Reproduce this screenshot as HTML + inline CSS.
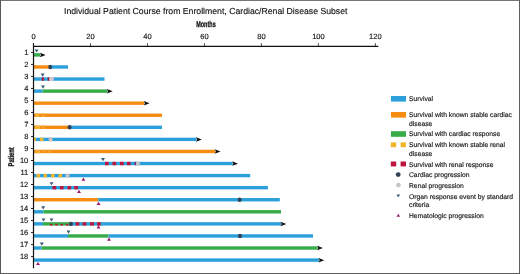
<!DOCTYPE html>
<html><head><meta charset="utf-8"><style>
html,body{margin:0;padding:0;background:#fff;}
body{width:520px;height:274px;overflow:hidden;position:relative;}
svg{position:absolute;left:0;top:0;display:block;filter:blur(0.4px);}
text{font-family:"Liberation Sans",sans-serif;fill:#111;stroke:#111;stroke-width:0.13px;text-rendering:geometricPrecision;}
.tk{font-size:7.5px;}
.lg{font-size:6.75px;}
.tt{font-size:8.7px;}
.bd{font-weight:bold;font-size:8.4px;stroke-width:0.28px;}
</style></head><body>
<svg width="520" height="274" viewBox="0 0 520 274">
<rect x="0" y="0" width="520" height="274" fill="#fff"/><rect x="0" y="0" width="520" height="1" fill="#747474"/><rect x="0" y="0" width="1" height="274" fill="#5a5a5a"/><rect x="519" y="0" width="1" height="274" fill="#5e5e5e"/><rect x="0" y="273" width="520" height="1" fill="#5e5e5e"/>
<text x="64" y="14.3" class="tt">Individual Patient Course from Enrollment, Cardiac/Renal Disease Subset</text>
<text x="0" y="0" class="bd" transform="translate(196.2 26.8) scale(0.655 1)">Months</text>
<text x="0" y="0" class="bd" transform="translate(13.6 166.4) rotate(-90) scale(0.685 1)">Patient</text>
<rect x="33.50" y="53.20" width="6.90" height="3.4" fill="#36ac48"/>
<path d="M40.00 52.70L45.70 55.00L40.00 57.20L41.00 55.00Z" fill="#111"/>
<path d="M34.60 49.40L38.60 49.40L36.60 52.60Z" fill="#3a5a74"/>
<rect x="33.50" y="65.27" width="16.50" height="3.4" fill="#f68c12"/>
<rect x="50.00" y="65.27" width="18.00" height="3.4" fill="#2ca0db"/>
<ellipse cx="50.20" cy="66.97" rx="2.0" ry="2.2" fill="#2f4257"/>
<rect x="33.50" y="77.34" width="71.00" height="3.4" fill="#2ca0db"/>
<rect x="41.80" y="77.34" width="2.20" height="3.4" fill="#bd1540"/>
<rect x="47.70" y="77.34" width="1.30" height="3.4" fill="#8a1a3a"/>
<rect x="49.00" y="77.34" width="1.80" height="3.4" fill="#e8a0b0"/>
<ellipse cx="51.80" cy="79.04" rx="2.0" ry="2.2" fill="#d8c8d0"/>
<path d="M40.70 73.54L44.70 73.54L42.70 76.74Z" fill="#3a5a74"/>
<rect x="33.50" y="89.41" width="9.00" height="3.4" fill="#2ca0db"/>
<rect x="42.50" y="89.41" width="64.90" height="3.4" fill="#36ac48"/>
<path d="M107.00 88.91L112.70 91.21L107.00 93.41L108.00 91.21Z" fill="#111"/>
<path d="M41.00 85.61L45.00 85.61L43.00 88.81Z" fill="#3a5a74"/>
<rect x="33.50" y="101.48" width="110.80" height="3.4" fill="#f68c12"/>
<path d="M143.90 100.98L149.60 103.28L143.90 105.48L144.90 103.28Z" fill="#111"/>
<rect x="33.50" y="113.55" width="128.50" height="3.4" fill="#f68c12"/>
<rect x="35.20" y="113.55" width="4.00" height="3.4" fill="#f2b035"/>
<rect x="41.50" y="113.55" width="3.50" height="3.4" fill="#f4a02a"/>
<rect x="33.50" y="125.62" width="36.10" height="3.4" fill="#f68c12"/>
<rect x="69.60" y="125.62" width="92.40" height="3.4" fill="#2ca0db"/>
<rect x="35.00" y="125.62" width="5.00" height="3.4" fill="#f2b238"/>
<rect x="41.50" y="125.62" width="3.00" height="3.4" fill="#f4a02a"/>
<ellipse cx="69.60" cy="127.32" rx="2.0" ry="2.2" fill="#2f4257"/>
<rect x="33.50" y="137.69" width="163.00" height="3.4" fill="#2ca0db"/>
<rect x="33.80" y="137.69" width="2.00" height="3.4" fill="#f2b62c"/>
<rect x="40.00" y="137.69" width="3.40" height="3.4" fill="#f2b62c"/>
<ellipse cx="50.60" cy="139.39" rx="2.0" ry="2.2" fill="#d5c0c0"/>
<path d="M196.10 137.19L201.80 139.49L196.10 141.69L197.10 139.49Z" fill="#111"/>
<rect x="33.50" y="149.76" width="181.70" height="3.4" fill="#f68c12"/>
<rect x="35.50" y="149.76" width="4.50" height="3.4" fill="#f3aa38"/>
<rect x="42.50" y="149.76" width="2.80" height="3.4" fill="#f4a030"/>
<rect x="48.00" y="149.76" width="2.80" height="3.4" fill="#f4a030"/>
<path d="M214.80 149.26L220.50 151.56L214.80 153.76L215.80 151.56Z" fill="#111"/>
<rect x="33.50" y="161.83" width="199.20" height="3.4" fill="#2ca0db"/>
<rect x="105.00" y="161.83" width="3.60" height="3.4" fill="#bd1540"/>
<rect x="112.50" y="161.83" width="3.60" height="3.4" fill="#bd1540"/>
<rect x="120.00" y="161.83" width="3.60" height="3.4" fill="#bd1540"/>
<rect x="127.00" y="161.83" width="3.60" height="3.4" fill="#bd1540"/>
<rect x="134.50" y="161.83" width="1.50" height="3.4" fill="#7a2a80"/>
<ellipse cx="138.00" cy="163.53" rx="2.0" ry="2.2" fill="#c6c6c6"/>
<path d="M232.30 161.33L238.00 163.63L232.30 165.83L233.30 163.63Z" fill="#111"/>
<path d="M101.00 158.03L105.00 158.03L103.00 161.23Z" fill="#3a5a74"/>
<rect x="33.50" y="173.90" width="216.70" height="3.4" fill="#2ca0db"/>
<rect x="36.50" y="173.90" width="3.50" height="3.4" fill="#f2b62c"/>
<rect x="43.50" y="173.90" width="3.50" height="3.4" fill="#f2b62c"/>
<rect x="51.00" y="173.90" width="3.50" height="3.4" fill="#f2b62c"/>
<rect x="58.50" y="173.90" width="3.50" height="3.4" fill="#f2b62c"/>
<ellipse cx="67.50" cy="175.60" rx="2.0" ry="2.2" fill="#c6c6c6"/>
<path d="M81.40 180.80L85.40 180.80L83.40 177.60Z" fill="#9c1a6a"/>
<rect x="33.50" y="185.97" width="234.40" height="3.4" fill="#2ca0db"/>
<rect x="52.50" y="185.97" width="3.60" height="3.4" fill="#bd1540"/>
<rect x="60.00" y="185.97" width="3.60" height="3.4" fill="#bd1540"/>
<rect x="67.50" y="185.97" width="3.60" height="3.4" fill="#bd1540"/>
<rect x="74.30" y="185.97" width="3.60" height="3.4" fill="#bd1540"/>
<path d="M49.50 182.17L53.50 182.17L51.50 185.37Z" fill="#3a5a74"/>
<path d="M77.00 193.00L81.00 193.00L79.00 189.80Z" fill="#9c1a6a"/>
<rect x="33.50" y="198.04" width="64.80" height="3.4" fill="#f68c12"/>
<rect x="98.30" y="198.04" width="181.50" height="3.4" fill="#2ca0db"/>
<ellipse cx="239.60" cy="199.74" rx="2.0" ry="2.2" fill="#2f4257"/>
<path d="M96.60 204.90L100.60 204.90L98.60 201.70Z" fill="#9c1a6a"/>
<rect x="33.50" y="210.11" width="10.00" height="3.4" fill="#2ca0db"/>
<rect x="43.50" y="210.11" width="237.50" height="3.4" fill="#36ac48"/>
<path d="M41.20 206.31L45.20 206.31L43.20 209.51Z" fill="#3a5a74"/>
<rect x="33.50" y="222.18" width="9.50" height="3.4" fill="#2ca0db"/>
<rect x="43.00" y="222.18" width="27.00" height="3.4" fill="#36ac48"/>
<rect x="50.00" y="223.88" width="2.4" height="1.7" fill="#bd1540"/>
<rect x="55.30" y="223.88" width="2.4" height="1.7" fill="#bd1540"/>
<rect x="60.60" y="223.88" width="2.4" height="1.7" fill="#bd1540"/>
<rect x="65.90" y="223.88" width="2.4" height="1.7" fill="#bd1540"/>
<rect x="70.00" y="222.18" width="211.00" height="3.4" fill="#2ca0db"/>
<rect x="75.50" y="222.18" width="3.80" height="3.4" fill="#bd1540"/>
<rect x="82.50" y="222.18" width="3.80" height="3.4" fill="#bd1540"/>
<rect x="90.00" y="222.18" width="3.80" height="3.4" fill="#bd1540"/>
<rect x="97.00" y="222.18" width="3.80" height="3.4" fill="#bd1540"/>
<ellipse cx="71.00" cy="223.88" rx="2.0" ry="2.2" fill="#2f4257"/>
<path d="M280.60 221.68L286.30 223.98L280.60 226.18L281.60 223.98Z" fill="#111"/>
<path d="M41.50 218.38L45.50 218.38L43.50 221.58Z" fill="#3a5a74"/>
<path d="M49.50 218.38L53.50 218.38L51.50 221.58Z" fill="#3a5a74"/>
<path d="M96.50 228.50L100.50 228.50L98.50 225.30Z" fill="#9c1a6a"/>
<rect x="33.50" y="234.25" width="34.50" height="3.4" fill="#2ca0db"/>
<rect x="68.00" y="234.25" width="40.50" height="3.4" fill="#36ac48"/>
<rect x="108.50" y="234.25" width="204.50" height="3.4" fill="#2ca0db"/>
<ellipse cx="240.00" cy="235.95" rx="2.0" ry="2.2" fill="#2f4257"/>
<path d="M66.50 230.45L70.50 230.45L68.50 233.65Z" fill="#3a5a74"/>
<path d="M107.00 240.70L111.00 240.70L109.00 237.50Z" fill="#9c1a6a"/>
<rect x="33.50" y="246.32" width="8.00" height="3.4" fill="#2ca0db"/>
<rect x="41.50" y="246.32" width="276.10" height="3.4" fill="#36ac48"/>
<path d="M317.20 245.82L322.90 248.12L317.20 250.32L318.20 248.12Z" fill="#111"/>
<path d="M39.80 242.52L43.80 242.52L41.80 245.72Z" fill="#3a5a74"/>
<rect x="33.50" y="258.39" width="285.50" height="3.4" fill="#2ca0db"/>
<path d="M318.60 257.89L324.30 260.19L318.60 262.39L319.60 260.19Z" fill="#111"/>
<path d="M36.00 265.10L40.00 265.10L38.00 261.90Z" fill="#9c1a6a"/>
<line x1="33.5" y1="46.3" x2="378.3" y2="46.3" stroke="#111" stroke-width="1.2"/>
<line x1="33.5" y1="43.2" x2="33.5" y2="268.3" stroke="#111" stroke-width="1.2"/>
<line x1="33.50" y1="43.2" x2="33.50" y2="46.3" stroke="#222" stroke-width="0.8"/>
<text x="33.50" y="38.6" text-anchor="middle" class="tk">0</text>
<line x1="90.48" y1="43.2" x2="90.48" y2="46.3" stroke="#222" stroke-width="0.8"/>
<text x="90.48" y="38.6" text-anchor="middle" class="tk">20</text>
<line x1="147.46" y1="43.2" x2="147.46" y2="46.3" stroke="#222" stroke-width="0.8"/>
<text x="147.46" y="38.6" text-anchor="middle" class="tk">40</text>
<line x1="204.44" y1="43.2" x2="204.44" y2="46.3" stroke="#222" stroke-width="0.8"/>
<text x="204.44" y="38.6" text-anchor="middle" class="tk">60</text>
<line x1="261.42" y1="43.2" x2="261.42" y2="46.3" stroke="#222" stroke-width="0.8"/>
<text x="261.42" y="38.6" text-anchor="middle" class="tk">80</text>
<line x1="318.40" y1="43.2" x2="318.40" y2="46.3" stroke="#222" stroke-width="0.8"/>
<text x="318.40" y="38.6" text-anchor="middle" class="tk">100</text>
<line x1="375.38" y1="43.2" x2="375.38" y2="46.3" stroke="#222" stroke-width="0.8"/>
<text x="375.38" y="38.6" text-anchor="middle" class="tk">120</text>
<line x1="31" y1="52.40" x2="33.5" y2="52.40" stroke="#111" stroke-width="0.9"/>
<text x="28.3" y="55.00" text-anchor="end" class="tk">1</text>
<line x1="31" y1="64.41" x2="33.5" y2="64.41" stroke="#111" stroke-width="0.9"/>
<text x="28.3" y="67.01" text-anchor="end" class="tk">2</text>
<line x1="31" y1="76.42" x2="33.5" y2="76.42" stroke="#111" stroke-width="0.9"/>
<text x="28.3" y="79.02" text-anchor="end" class="tk">3</text>
<line x1="31" y1="88.43" x2="33.5" y2="88.43" stroke="#111" stroke-width="0.9"/>
<text x="28.3" y="91.03" text-anchor="end" class="tk">4</text>
<line x1="31" y1="100.44" x2="33.5" y2="100.44" stroke="#111" stroke-width="0.9"/>
<text x="28.3" y="103.04" text-anchor="end" class="tk">5</text>
<line x1="31" y1="112.45" x2="33.5" y2="112.45" stroke="#111" stroke-width="0.9"/>
<text x="28.3" y="115.05" text-anchor="end" class="tk">6</text>
<line x1="31" y1="124.46" x2="33.5" y2="124.46" stroke="#111" stroke-width="0.9"/>
<text x="28.3" y="127.06" text-anchor="end" class="tk">7</text>
<line x1="31" y1="136.47" x2="33.5" y2="136.47" stroke="#111" stroke-width="0.9"/>
<text x="28.3" y="139.07" text-anchor="end" class="tk">8</text>
<line x1="31" y1="148.48" x2="33.5" y2="148.48" stroke="#111" stroke-width="0.9"/>
<text x="28.3" y="151.08" text-anchor="end" class="tk">9</text>
<line x1="31" y1="160.49" x2="33.5" y2="160.49" stroke="#111" stroke-width="0.9"/>
<text x="28.3" y="163.09" text-anchor="end" class="tk">10</text>
<line x1="31" y1="172.50" x2="33.5" y2="172.50" stroke="#111" stroke-width="0.9"/>
<text x="28.3" y="175.10" text-anchor="end" class="tk">11</text>
<line x1="31" y1="184.51" x2="33.5" y2="184.51" stroke="#111" stroke-width="0.9"/>
<text x="28.3" y="187.11" text-anchor="end" class="tk">12</text>
<line x1="31" y1="196.52" x2="33.5" y2="196.52" stroke="#111" stroke-width="0.9"/>
<text x="28.3" y="199.12" text-anchor="end" class="tk">13</text>
<line x1="31" y1="208.53" x2="33.5" y2="208.53" stroke="#111" stroke-width="0.9"/>
<text x="28.3" y="211.13" text-anchor="end" class="tk">14</text>
<line x1="31" y1="220.54" x2="33.5" y2="220.54" stroke="#111" stroke-width="0.9"/>
<text x="28.3" y="223.14" text-anchor="end" class="tk">15</text>
<line x1="31" y1="232.55" x2="33.5" y2="232.55" stroke="#111" stroke-width="0.9"/>
<text x="28.3" y="235.15" text-anchor="end" class="tk">16</text>
<line x1="31" y1="244.56" x2="33.5" y2="244.56" stroke="#111" stroke-width="0.9"/>
<text x="28.3" y="247.16" text-anchor="end" class="tk">17</text>
<line x1="31" y1="256.57" x2="33.5" y2="256.57" stroke="#111" stroke-width="0.9"/>
<text x="28.3" y="259.17" text-anchor="end" class="tk">18</text>
<rect x="391" y="96" width="15" height="5.6" fill="#2ca0db"/>
<text x="409" y="100.90" class="lg">Survival</text>
<rect x="391" y="112" width="15" height="5.6" fill="#f68c12"/>
<text x="409" y="117.10" class="lg">Survival with known stable cardiac</text>
<text x="409" y="125.90" class="lg">disease</text>
<rect x="391" y="131.2" width="15" height="5.6" fill="#36ac48"/>
<text x="409" y="136.30" class="lg">Survival with cardiac response</text>
<rect x="390.8" y="142.4" width="5.4" height="4.8" fill="#f2b62c"/><rect x="400.6" y="142.4" width="5.4" height="4.8" fill="#f2b62c"/>
<text x="409" y="146.90" class="lg">Survival with known stable renal</text>
<text x="409" y="155.70" class="lg">disease</text>
<rect x="390.8" y="161.5" width="5.4" height="4.9" fill="#bd1540"/><rect x="400.6" y="161.5" width="5.4" height="4.9" fill="#bd1540"/>
<text x="409" y="166.50" class="lg">Survival with renal response</text>
<circle cx="398.2" cy="174.6" r="2.4" fill="#2f4257"/>
<text x="409" y="176.90" class="lg">Cardiac progression</text>
<circle cx="398.4" cy="185.1" r="2.4" fill="#c6c6c6"/>
<text x="409" y="187.70" class="lg">Renal progression</text>
<path d="M396.5 194.6L400.1 194.6L398.3 197.6Z" fill="#3a5a74"/>
<text x="409" y="198.50" class="lg">Organ response event by standard</text>
<text x="409" y="207.10" class="lg">criteria</text>
<path d="M396.5 216.8L400.1 216.8L398.3 213.8Z" fill="#9c1a6a"/>
<text x="409" y="218.10" class="lg">Hematologic progression</text>
</svg>
</body></html>
